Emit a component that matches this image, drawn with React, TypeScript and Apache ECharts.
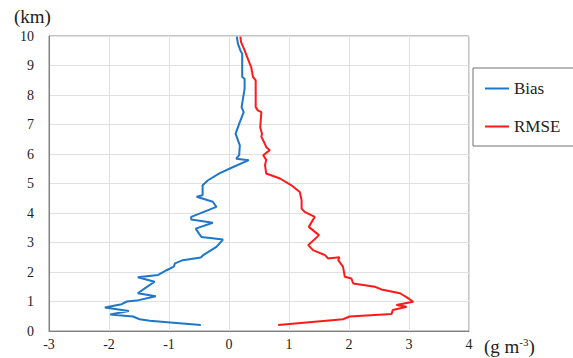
import React, { useEffect, useRef } from "react";
import * as echarts from "echarts";

// Bias profile: [value (g m-3), height (km)]
const biasData: [number, number][] = [
  [-0.47, 0.2], [-0.93, 0.28], [-1.32, 0.35], [-1.49, 0.4], [-1.6, 0.49], [-1.98, 0.56],
  [-1.67, 0.68], [-2.07, 0.8], [-1.79, 0.91], [-1.7, 1.0], [-1.54, 1.03], [-1.22, 1.18],
  [-1.52, 1.28], [-1.35, 1.52], [-1.24, 1.67], [-1.52, 1.82], [-1.18, 1.9], [-1.04, 2.06],
  [-0.92, 2.18], [-0.9, 2.29], [-0.77, 2.4], [-0.47, 2.49], [-0.43, 2.57], [-0.21, 2.85],
  [-0.1, 3.1], [-0.46, 3.19], [-0.5, 3.3], [-0.555, 3.47], [-0.27, 3.67], [-0.63, 3.78],
  [-0.63, 3.87], [-0.21, 4.21], [-0.27, 4.38], [-0.54, 4.55], [-0.44, 4.6], [-0.44, 4.94],
  [-0.35, 5.11], [-0.16, 5.34], [0.07, 5.56], [0.33, 5.79], [0.12, 5.84], [0.17, 5.96],
  [0.18, 6.29], [0.11, 6.69], [0.18, 7.08], [0.245, 7.42], [0.21, 7.59], [0.26, 8.21],
  [0.26, 8.55], [0.22, 8.61], [0.22, 9.4], [0.19, 9.51], [0.15, 9.73], [0.13, 9.98],
];

// RMSE profile: [value (g m-3), height (km)]
const rmseData: [number, number][] = [
  [0.82, 0.2], [1.9, 0.4], [2.01, 0.49], [2.71, 0.58], [2.73, 0.71], [2.96, 0.82],
  [2.79, 0.88], [3.07, 0.99], [2.97, 1.13], [2.85, 1.28], [2.54, 1.41], [2.43, 1.5],
  [2.07, 1.61], [2.04, 1.78], [1.93, 1.84], [1.9, 2.18], [1.82, 2.4], [1.84, 2.5],
  [1.65, 2.46], [1.6, 2.57], [1.4, 2.74], [1.32, 2.91], [1.5, 3.25], [1.33, 3.53],
  [1.43, 3.87], [1.26, 4.04], [1.21, 4.15], [1.21, 4.43], [1.18, 4.71], [1.04, 4.94],
  [0.85, 5.17], [0.62, 5.34], [0.6, 5.62], [0.62, 5.8], [0.57, 5.96], [0.68, 6.13],
  [0.62, 6.24], [0.57, 6.46], [0.54, 6.58], [0.55, 6.69], [0.52, 6.91], [0.54, 7.42],
  [0.48, 7.48], [0.445, 7.59], [0.445, 8.5], [0.4, 8.61], [0.37, 8.94], [0.26, 9.51],
  [0.2, 9.8], [0.19, 9.98],
];

const seriesNames = ["Bias", "RMSE"];
const yAxisTitle = "(km)";

const FONT = "Liberation Serif";

export default function App() {
  const ref = useRef<HTMLDivElement>(null);
  useEffect(() => {
    if (!ref.current) return;
    const chart = echarts.init(ref.current, null, { renderer: "svg" });
    chart.setOption({
      animation: false,
      backgroundColor: "#ffffff",
      textStyle: { fontFamily: FONT },
      grid: {
        left: 49,
        top: 36,
        width: 420,
        height: 295,
        show: true,
        borderColor: "#8a8a8a",
        borderWidth: 1,
        backgroundColor: "transparent",
      },
      xAxis: {
        type: "value",
        min: -3,
        max: 4,
        interval: 1,
        axisLine: { show: true, onZero: false, lineStyle: { color: "#7f7f7f", width: 1 } },
        axisTick: { show: false },
        splitLine: { show: true, lineStyle: { color: "#e0e0e0", width: 1 } },
        axisLabel: { color: "#222", fontFamily: FONT, fontSize: 14, margin: 6 },
      },
      yAxis: {
        type: "value",
        min: 0,
        max: 10,
        interval: 1,
        axisLine: { show: true, onZero: false, lineStyle: { color: "#7f7f7f", width: 1 } },
        axisTick: { show: false },
        splitLine: { show: true, lineStyle: { color: "#e0e0e0", width: 1 } },
        axisLabel: { color: "#222", fontFamily: FONT, fontSize: 14, margin: 15 },
      },
      legend: {
        orient: "vertical",
        left: 473,
        top: 68,
        padding: [12, 16, 11, 12],
        itemGap: 21,
        itemWidth: 24,
        itemHeight: 2,
        icon: "rect",
        borderColor: "#707070",
        borderWidth: 1,
        data: seriesNames,
        textStyle: { fontFamily: FONT, fontSize: 17, color: "#222", lineHeight: 16 },
      },
      graphic: [
        {
          type: "text",
          left: 14,
          top: 7,
          style: { text: yAxisTitle, fontFamily: FONT, fontSize: 19, fill: "#222" },
        },
        {
          type: "text",
          left: 484,
          top: 336,
          style: {
            text: "(g m{sup|-3})",
            fontFamily: FONT,
            fontSize: 19,
            fill: "#222",
            rich: {
              sup: { fontSize: 11, fontFamily: FONT, verticalAlign: "top", padding: [0, 0, 9, 0], fill: "#222" },
            },
          },
        },
      ],
      series: [
        {
          name: seriesNames[0],
          type: "line",
          data: biasData,
          symbol: "none",
          lineStyle: { color: "#1f77c8", width: 2 },
          itemStyle: { color: "#1f77c8" },
        },
        {
          name: seriesNames[1],
          type: "line",
          data: rmseData,
          symbol: "none",
          lineStyle: { color: "#ff1a1a", width: 2 },
          itemStyle: { color: "#ff1a1a" },
        },
      ],
    });
    return () => chart.dispose();
  }, []);
  return (
    <div
      ref={ref}
      style={{ position: "fixed", left: 0, top: 0, width: 573, height: 358 }}
    />
  );
}
